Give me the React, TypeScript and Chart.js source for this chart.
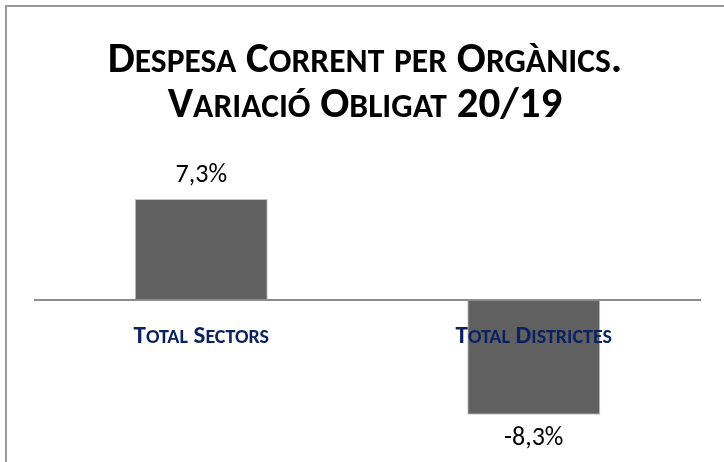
import React, { useEffect, useRef } from "react";
import { Chart, registerables } from "chart.js";

Chart.register(...registerables);

const categories = ["Total Sectors", "Total Districtes"];
const variation = [7.3, -8.3];
const titleLines = ["Despesa Corrent per Orgànics.", "Variació Obligat 20/19"];

const FAMILY = "Carlito, Lato, 'Open Sans', sans-serif";

function drawSmallCaps(
  ctx: CanvasRenderingContext2D,
  text: string,
  cx: number,
  baseline: number,
  size: number,
  ratio: number,
  weight: string,
  color: string
) {
  const runs: { t: string; s: number }[] = [];
  for (const ch of text) {
    const lower = ch !== ch.toUpperCase();
    const s = lower ? size * ratio : size;
    const t = ch.toUpperCase();
    const last = runs[runs.length - 1];
    if (last && last.s === s) last.t += t;
    else runs.push({ t, s });
  }
  let total = 0;
  const widths: number[] = [];
  for (const r of runs) {
    ctx.font = `${weight} ${r.s}px ${FAMILY}`;
    const w = ctx.measureText(r.t).width;
    widths.push(w);
    total += w;
  }
  let x = cx - total / 2;
  ctx.fillStyle = color;
  ctx.textAlign = "left";
  ctx.textBaseline = "alphabetic";
  runs.forEach((r, i) => {
    ctx.font = `${weight} ${r.s}px ${FAMILY}`;
    ctx.fillText(r.t, x, baseline);
    x += widths[i];
  });
}

const textPlugin = {
  id: "textPlugin",
  afterDatasetsDraw(chart: any) {
    const ctx = chart.ctx as CanvasRenderingContext2D;
    const meta = chart.getDatasetMeta(0);
    const values = chart.data.datasets[0].data as number[];
    const labels = chart.data.labels as string[];
    ctx.save();
    // value labels
    ctx.font = `normal 26px ${FAMILY}`;
    ctx.fillStyle = "#000000";
    ctx.textAlign = "center";
    ctx.textBaseline = "alphabetic";
    meta.data.forEach((el: any, i: number) => {
      const v = values[i];
      const txt = v.toFixed(1).replace(".", ",") + "%";
      const y = v >= 0 ? el.y - 17 : el.y + 30;
      ctx.fillText(txt, el.x, y);
    });
    // category labels next to the zero axis
    const xs = chart.scales.x;
    const zeroY = chart.scales.y.getPixelForValue(0);
    labels.forEach((lab, i) => {
      drawSmallCaps(ctx, lab, xs.getPixelForTick(i), zeroY + 43, 25, 0.8, "bold", "#0b2260");
    });
    // title
    const cx = chart.width / 2 + 3;
    titleLines.forEach((line, i) => {
      drawSmallCaps(ctx, line, cx, 72 + i * 45, 43, 0.78, "bold", "#000000");
    });
    ctx.restore();
  },
};

export default function App() {
  const ref = useRef<HTMLCanvasElement | null>(null);
  useEffect(() => {
    if (!ref.current) return;
    const chart = new Chart(ref.current, {
      type: "bar",
      data: {
        labels: categories,
        datasets: [
          {
            data: variation,
            backgroundColor: "#606060",
            borderColor: "#c4c4c4",
            borderWidth: 1,
            barPercentage: 0.4,
            categoryPercentage: 1,
          },
        ],
      },
      options: {
        animation: false,
        responsive: false,
        maintainAspectRatio: false,
        layout: { padding: { left: 35, right: 24, bottom: 10, top: 175.4 } },
        plugins: {
          legend: { display: false },
          tooltip: { enabled: false },
          title: { display: false },
        },
        scales: {
          x: {
            position: { y: 0 } as any,
            grid: { display: true, color: "rgba(0,0,0,0)", drawTicks: false },
            border: { display: true, color: "#8c8c8c", width: 2, z: 1 } as any,
            ticks: { display: false },
          },
          y: {
            display: false,
            min: -11,
            max: 9,
          },
        },
      },
      plugins: [textPlugin],
    });
    return () => chart.destroy();
  }, []);
  return (
    <div
      style={{
        position: "absolute",
        left: 0,
        top: 0,
        width: 724,
        height: 462,
        overflow: "hidden",
        background: "#ffffff",
      }}
    >
      <div
        style={{
          position: "absolute",
          left: 5,
          top: 5,
          width: 900,
          height: 900,
          border: "2px solid #9a9a9a",
          boxSizing: "border-box",
        }}
      />
      <canvas ref={ref} width={724} height={462} style={{ position: "absolute", left: 0, top: 0 }} />
    </div>
  );
}
